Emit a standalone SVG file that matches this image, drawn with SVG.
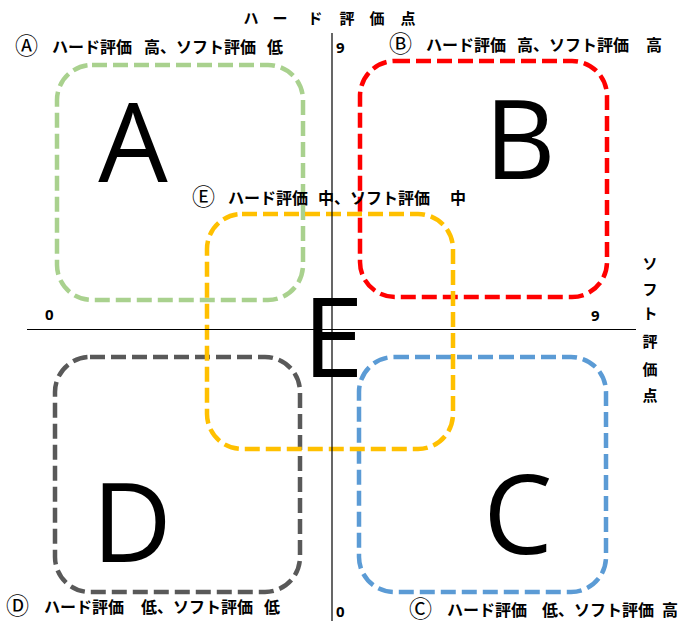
<svg xmlns="http://www.w3.org/2000/svg" width="684" height="621" viewBox="0 0 684 621">
<style>
.box{fill:none;stroke-width:4.5;stroke-dasharray:15 6}
.big{font-family:"Open Sans","Noto Sans",sans-serif;font-size:110px;fill:#000;text-anchor:middle}
.lbl{font-family:"Noto Sans CJK JP","Noto Sans",sans-serif;font-size:16px;font-weight:bold;fill:#000}
.circ{font-family:"DejaVu Sans","Noto Sans CJK JP",sans-serif;font-size:23px;font-weight:normal;fill:#000}
.num{font-family:"Noto Sans","Liberation Sans",sans-serif;font-size:15px;font-weight:bold;fill:#000}
.ax{font-family:"Noto Sans CJK JP","Noto Sans",sans-serif;font-size:15px;font-weight:bold;fill:#000;text-anchor:middle}
</style>
<rect width="684" height="621" fill="#fff"/>
<g id="nodeA">
<rect class="box" x="57" y="65" width="246" height="235" rx="35" stroke="#A9D18E"/>
</g>
<g id="nodeB">
<rect class="box" x="360" y="61" width="247" height="236" rx="35" stroke="#FF0000"/>
</g>
<g id="nodeD">
<rect class="box" x="55" y="357" width="245" height="235" rx="35" stroke="#595959"/>
</g>
<g id="nodeC">
<rect class="box" x="359" y="357" width="247" height="235" rx="35" stroke="#5B9BD5"/>
</g>
<g id="nodeE">
<rect class="box" x="207" y="214" width="246" height="235" rx="35" stroke="#FFC000"/>
</g>
<g id="connectors" stroke="#000" stroke-width="1.2">
<line x1="332" y1="33" x2="332" y2="621"/>
<line x1="27" y1="329.5" x2="636" y2="329.5"/>
</g>
<g id="bigLetters">
<text class="big" x="133" y="182">A</text>
<text class="big" x="520" y="179">B</text>
<text class="big" x="333" y="377">E</text>
<text class="big" x="132" y="562">D</text>
<text class="big" x="518" y="554">C</text>
</g>
<g id="axisLabels">
<text class="ax" y="24"><tspan x="251">ハ</tspan><tspan x="280">ー</tspan><tspan x="315">ド</tspan><tspan x="347">評</tspan><tspan x="377">価</tspan><tspan x="408">点</tspan></text>
<text class="ax"><tspan x="650" y="269">ソ</tspan><tspan x="650" y="295">フ</tspan><tspan x="650" y="319">ト</tspan><tspan x="650" y="347">評</tspan><tspan x="650" y="375">価</tspan><tspan x="650" y="401">点</tspan></text>
<text class="num" x="336" y="53">9</text>
<text class="num" x="45" y="320">0</text>
<text class="num" x="591" y="321">9</text>
<text class="num" x="336" y="617">0</text>
</g>
<g id="labels">
<text class="lbl" y="53"><tspan class="circ" x="15" dy="1">Ⓐ</tspan><tspan x="52" dy="-1">ハード評価</tspan><tspan x="144">高、ソフト評価</tspan><tspan x="267">低</tspan></text>
<text class="lbl" y="51"><tspan class="circ" x="389" dy="1">Ⓑ</tspan><tspan x="426" dy="-1">ハード評価</tspan><tspan x="517">高、ソフト評価</tspan><tspan x="646">高</tspan></text>
<text class="lbl" y="204"><tspan class="circ" x="192" dy="1">Ⓔ</tspan><tspan x="228" dy="-1">ハード評価</tspan><tspan x="318">中、ソフト評価</tspan><tspan x="450">中</tspan></text>
<text class="lbl" y="613"><tspan class="circ" x="6" dy="1">Ⓓ</tspan><tspan x="44" dy="-1">ハード評価</tspan><tspan x="141">低、ソフト評価</tspan><tspan x="264">低</tspan></text>
<text class="lbl" y="616"><tspan class="circ" x="409" dy="1">Ⓒ</tspan><tspan x="447" dy="-1">ハード評価</tspan><tspan x="542">低、ソフト評価</tspan><tspan x="662">高</tspan></text>
</g>
</svg>
